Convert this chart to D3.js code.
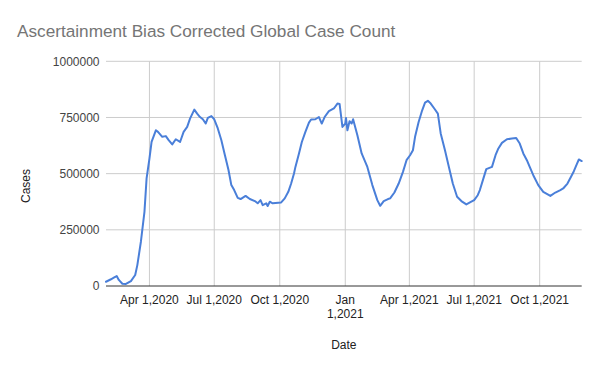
<!DOCTYPE html>
<html>
<head>
<meta charset="utf-8">
<script src="https://cdn.jsdelivr.net/npm/d3@7"></script>
<style>
  html, body { margin: 0; padding: 0; background: #fff; }
  svg { display: block; font-family: "Liberation Sans", Arial, sans-serif; }
</style>
</head>
<body>
<svg id="chart" width="600" height="371"></svg>
<script>
const title = "Ascertainment Bias Corrected Global Case Count";
const xTitle = "Date";
const yTitle = "Cases";

const dates = [
"2020-01-31","2020-02-07","2020-02-11","2020-02-15","2020-02-18","2020-02-23","2020-02-28","2020-03-06",
"2020-03-12","2020-03-15","2020-03-20","2020-03-25","2020-03-28","2020-04-01","2020-04-04","2020-04-10",
"2020-04-13","2020-04-19","2020-04-24","2020-04-28","2020-05-03","2020-05-08","2020-05-14","2020-05-19",
"2020-05-24","2020-05-28","2020-06-03","2020-06-07","2020-06-11","2020-06-15","2020-06-19","2020-06-22",
"2020-06-27","2020-07-01","2020-07-06","2020-07-11","2020-07-16","2020-07-21","2020-07-25","2020-07-29",
"2020-08-03","2020-08-07","2020-08-14","2020-08-20","2020-08-27","2020-08-31","2020-09-04","2020-09-07",
"2020-09-12","2020-09-14","2020-09-17","2020-09-21","2020-10-03","2020-10-08","2020-10-13","2020-10-17",
"2020-10-21","2020-10-23","2020-10-28","2020-11-01","2020-11-06","2020-11-11","2020-11-14","2020-11-20",
"2020-11-25","2020-11-29","2020-12-03","2020-12-09","2020-12-16","2020-12-21","2020-12-24","2020-12-28",
"2021-01-01","2021-01-02","2021-01-04","2021-01-07","2021-01-10","2021-01-12","2021-01-18","2021-01-24",
"2021-02-01","2021-02-08","2021-02-15","2021-02-19","2021-02-24","2021-03-02","2021-03-05","2021-03-11",
"2021-03-17","2021-03-23","2021-03-28","2021-04-02","2021-04-06","2021-04-09","2021-04-14","2021-04-19",
"2021-04-23","2021-04-27","2021-05-01","2021-05-06","2021-05-11","2021-05-15","2021-05-21","2021-05-27",
"2021-06-01","2021-06-07","2021-06-13","2021-06-20","2021-06-27","2021-07-01","2021-07-06","2021-07-09",
"2021-07-14","2021-07-18","2021-07-26","2021-07-31","2021-08-04","2021-08-09","2021-08-16","2021-08-23",
"2021-08-29","2021-09-03","2021-09-08","2021-09-13","2021-09-17","2021-09-22","2021-09-29","2021-10-06",
"2021-10-16","2021-10-23","2021-10-30","2021-11-03","2021-11-09","2021-11-14","2021-11-18","2021-11-22",
"2021-11-25","2021-11-29"
];

const cases = [
19000,30000,37000,44000,27000,10000,9000,22000,
49000,93000,197000,330000,479000,567000,641000,693000,
686000,664000,667000,649000,630000,653000,641000,686000,
708000,745000,785000,767000,752000,742000,723000,748000,
756000,742000,701000,649000,582000,516000,449000,427000,
392000,387000,401000,387000,378000,368000,382000,360000,
368000,356000,375000,368000,372000,390000,419000,456000,
501000,530000,590000,641000,686000,727000,741000,742000,
752000,723000,752000,778000,790000,812000,810000,708000,
723000,748000,693000,733000,723000,742000,671000,590000,
530000,449000,382000,357000,378000,387000,390000,416000,
456000,508000,560000,582000,604000,664000,730000,782000,
816000,824000,812000,790000,767000,679000,604000,523000,
456000,397000,378000,363000,375000,382000,404000,427000,
479000,520000,530000,582000,612000,637000,653000,656000,
659000,634000,590000,560000,530000,493000,449000,419000,
401000,416000,427000,434000,456000,486000,511000,541000,
563000,556000
];

const yTicks = [0, 250000, 500000, 750000, 1000000];
const xTickDates = ["2020-04-01","2020-07-01","2020-10-01","2021-01-01","2021-04-01","2021-07-01","2021-10-01"];
const xTickLabels = ["Apr 1,2020","Jul 1,2020","Oct 1,2020","Jan 1,2021","Apr 1,2021","Jul 1,2021","Oct 1,2021"];

const parse = d3.utcParse("%Y-%m-%d");
const data = dates.map((d, i) => ({ date: parse(d), value: cases[i] }));

const svg = d3.select("#chart");
const plot = { left: 106, right: 581.7, top: 61.3, bottom: 286 };

const x = d3.scaleUtc().domain(d3.extent(data, d => d.date)).range([plot.left, plot.right]);
const y = d3.scaleLinear().domain([0, 1000000]).range([plot.bottom, plot.top]);

// title
svg.append("text").attr("x", 17).attr("y", 37)
  .attr("font-size", 17.2).attr("fill", "#757575").text(title);

// horizontal gridlines
svg.append("g").selectAll("line").data(yTicks.filter(t => t > 0)).join("line")
  .attr("x1", plot.left).attr("x2", plot.right)
  .attr("y1", d => y(d)).attr("y2", d => y(d))
  .attr("stroke", "#cccccc").attr("stroke-width", 1);

// vertical gridlines
svg.append("g").selectAll("line").data(xTickDates.map(parse)).join("line")
  .attr("x1", d => x(d)).attr("x2", d => x(d))
  .attr("y1", plot.top).attr("y2", plot.bottom)
  .attr("stroke", "#cccccc").attr("stroke-width", 1);

// y tick labels
svg.append("g").selectAll("text").data(yTicks).join("text")
  .attr("x", 99.5).attr("y", d => y(d)).attr("dy", "0.35em")
  .attr("text-anchor", "end").attr("font-size", 12).attr("fill", "#444444")
  .text(d => d3.format("d")(d));

// x tick labels
const xl = svg.append("g").selectAll("text").data(xTickDates.map((d, i) => ({ d: parse(d), label: xTickLabels[i] }))).join("text")
  .attr("x", d => x(d.d)).attr("y", 303.5)
  .attr("text-anchor", "middle").attr("font-size", 12).attr("fill", "#222222");
xl.each(function(d) {
  const t = d3.select(this);
  const lines = d.d.getUTCMonth() === 0 ? [d.label.slice(0, d.label.indexOf(" ")), d.label.slice(d.label.indexOf(" ") + 1)] : [d.label];
  lines.forEach((ln, i) => {
    t.append("tspan").attr("x", x(d.d)).attr("dy", i === 0 ? 0 : 14).text(ln);
  });
});

// axis titles
svg.append("text").attr("x", (plot.left + plot.right) / 2).attr("y", 348.5)
  .attr("text-anchor", "middle").attr("font-size", 12).attr("fill", "#222222").text(xTitle);
svg.append("text").attr("transform", "translate(29.5,186) rotate(-90)")
  .attr("text-anchor", "middle").attr("font-size", 12).attr("fill", "#222222").text(yTitle);

// line
const line = d3.line().x(d => x(d.date)).y(d => y(d.value));
svg.append("path").datum(data)
  .attr("fill", "none").attr("stroke", "#4a7fd9").attr("stroke-width", 2)
  .attr("stroke-linejoin", "round").attr("stroke-linecap", "round")
  .attr("d", line);

// baseline
svg.append("line").attr("x1", plot.left).attr("x2", plot.right)
  .attr("y1", y(0)).attr("y2", y(0)).attr("stroke", "#333333").attr("stroke-width", 1);
</script>
</body>
</html>
